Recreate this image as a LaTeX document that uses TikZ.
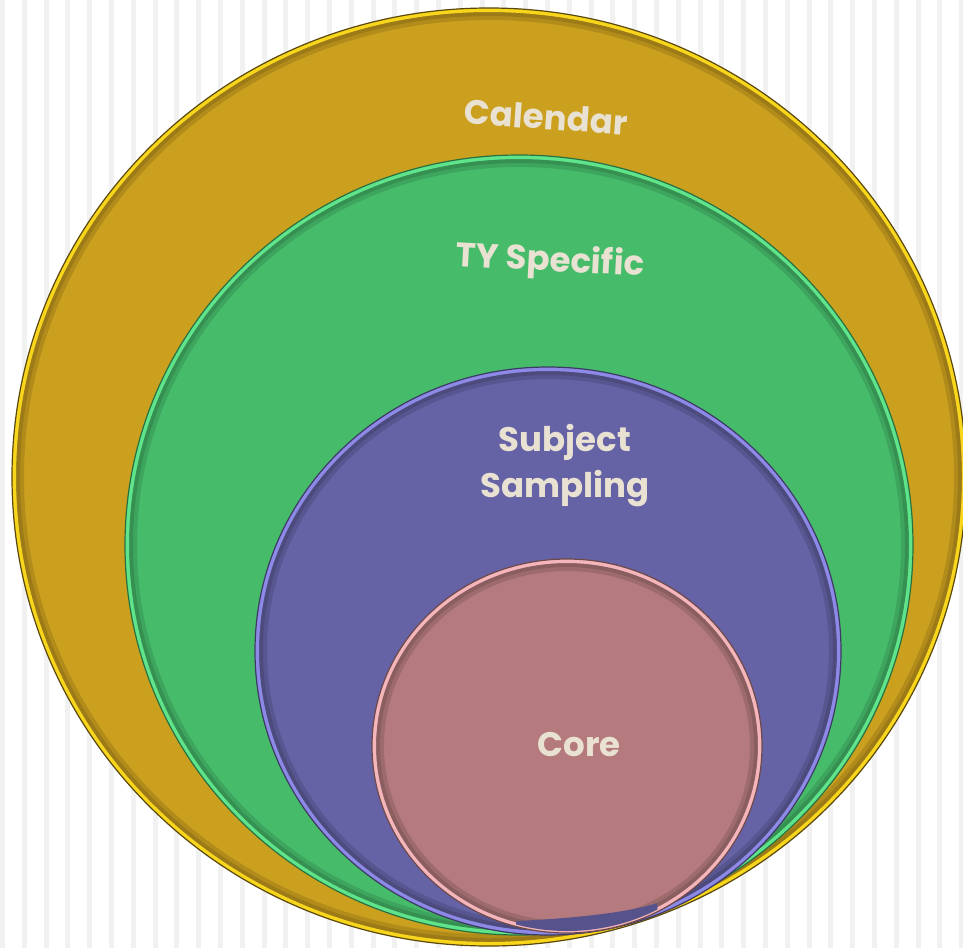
\documentclass[tikz,border=0pt]{standalone}
\usepackage{fontspec}
\setmainfont{Poppins}
\usepackage{tikz}
\usetikzlibrary{calc}
\definecolor{stripe}{HTML}{F1F1F1}
\definecolor{calfill}{HTML}{CBA01F}
\definecolor{caledge}{HTML}{F7D61C}
\definecolor{tyfill}{HTML}{46BC6B}
\definecolor{tyedge}{HTML}{5FE48C}
\definecolor{subfill}{HTML}{6562A5}
\definecolor{subedge}{HTML}{8D89E6}
\definecolor{corefill}{HTML}{B57A7D}
\definecolor{coreedge}{HTML}{F4B6BA}
\definecolor{labeltxt}{HTML}{E9E2D2}
\tikzset{>=latex}

\begin{document}
\begin{tikzpicture}[x=1pt, y=-1pt,
  ring/.style={line width=4pt},
  shade ring/.style={line width=8pt, opacity=0.12},
  rim/.style={line width=1.2pt},
  lbl/.style={text=labeltxt, font=\fontsize{34}{46}\selectfont\bfseries, align=center, inner sep=0pt}]
\useasboundingbox (0, 0) rectangle (963, 948);
\fill[white] (0, 0) rectangle (963, 948);
\foreach \x in {0, 21.8, ..., 963}
  \fill[stripe] (\x, 0) rectangle ++(5, 948);
% outer: calendar
\fill[calfill] (489, 477) ellipse (477 and 469);
\draw[black, shade ring] (489, 477) ellipse (469 and 461);
\draw[black, shade ring, line width=4pt] (489, 477) ellipse (471 and 463);
\draw[caledge, ring] (489, 477) ellipse (475 and 467);
\draw[black!55!calfill, rim] (489, 477) ellipse (477 and 469);
% ty specific
\fill[tyfill] (519, 545) ellipse (394 and 390);
\draw[black, shade ring] (519, 545) ellipse (386 and 382);
\draw[black, shade ring, line width=4pt] (519, 545) ellipse (388 and 384);
\draw[tyedge, ring] (519, 545) ellipse (392 and 388);
\draw[black!40!tyfill, rim] (519, 545) ellipse (394 and 390);
% subject sampling
\fill[subfill] (548, 651) ellipse (293 and 284);
\draw[black, shade ring] (548, 651) ellipse (285 and 276);
\draw[black, shade ring, line width=4pt] (548, 651) ellipse (287 and 278);
\draw[subedge, ring] (548, 651) ellipse (291 and 282);
\draw[black!40!subfill, rim] (548, 651) ellipse (293 and 284);
% core
\fill[corefill] (567, 746) ellipse (195 and 187);
\draw[black, shade ring] (567, 746) ellipse (187 and 179);
\draw[black, shade ring, line width=4pt] (567, 746) ellipse (189 and 181);
\draw[coreedge, ring] (567, 746) ellipse (193 and 185);
\draw[black!40!corefill, rim] (567, 746) ellipse (195 and 187);
\begin{scope}
  \clip (567, 746) ellipse (193 and 185);
  \fill[subfill!85!black] (516, 921) .. controls (580, 918) and (630, 912) .. (657, 903)
    -- (660, 945) -- (516, 945) -- cycle;
\end{scope}
\node[lbl, rotate=-4] (cal) at (546, 117) {Calendar};
\node[lbl, rotate=-3] (ty) at (550, 262) {TY Specific};
\node[lbl] (sub) at (565, 466) {Subject\\Sampling};
\node[lbl] (core) at (579, 745) {Core};
\end{tikzpicture}
\end{document}
